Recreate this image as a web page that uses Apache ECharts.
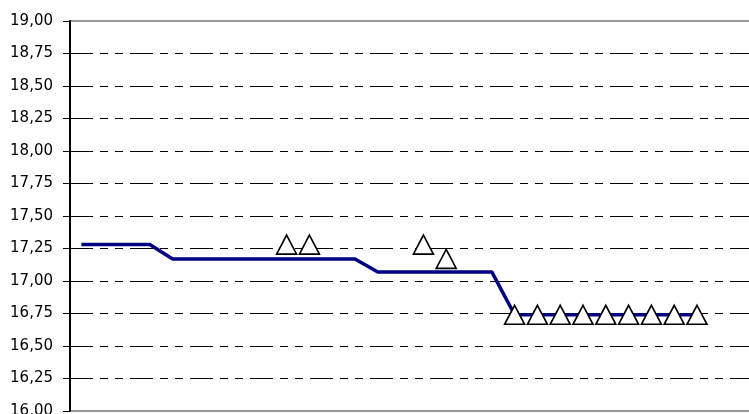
<!DOCTYPE html>
<html>
<head>
<meta charset="utf-8">
<script src="https://cdn.jsdelivr.net/npm/echarts@6/dist/echarts.min.js"></script>
<style>
  html, body { margin: 0; padding: 0; background: #fff; }
  #chart { width: 749px; height: 414px; }
</style>
</head>
<body>
<div id="chart"></div>
<script>
// 30 category slots, only the first 28 carry data
var categories = ['1','2','3','4','5','6','7','8','9','10','11','12','13','14','15',
                  '16','17','18','19','20','21','22','23','24','25','26','27','28','29','30'];

var levelValues = [17.28, 17.28, 17.28, 17.28, 17.17, 17.17, 17.17, 17.17, 17.17, 17.17,
                   17.17, 17.17, 17.17, 17.07, 17.07, 17.07, 17.07, 17.07, 17.07, 16.74,
                   16.74, 16.74, 16.74, 16.74, 16.74, 16.74, 16.74, 16.74];

var markerValues = [null, null, null, null, null, null, null, null, null, 17.28,
                    17.28, null, null, null, null, 17.28, 17.17, null, null, 16.74,
                    16.74, 16.74, 16.74, 16.74, 16.74, 16.74, 16.74, 16.74];

var yMin = 16, yMax = 19, yStep = 0.25;

var myChart = echarts.init(document.getElementById('chart'));
myChart.setOption({
    animation: false,
    backgroundColor: '#fff',
    grid: {
        left: 70,
        top: 21,
        bottom: 3,
        width: 684,
        outerBoundsMode: 'none',
        show: true,
        borderColor: '#999',
        borderWidth: 2
    },
    xAxis: {
        type: 'category',
        data: categories,
        boundaryGap: true,
        axisLine: { show: false },
        axisTick: { show: false },
        axisLabel: { show: false },
        splitLine: { show: false }
    },
    yAxis: {
        type: 'value',
        min: yMin,
        max: yMax,
        interval: yStep,
        axisLine: { show: true, lineStyle: { color: '#000', width: 2 } },
        axisTick: { show: true, length: 7, lineStyle: { color: '#000', width: 1 } },
        axisLabel: {
            margin: 17,
            color: '#000',
            fontSize: 15,
            fontFamily: 'DejaVu Sans',
            formatter: function (v) { return v.toFixed(2).replace('.', ','); }
        },
        splitLine: {
            show: true,
            showMinLine: false,
            showMaxLine: false,
            lineStyle: { color: '#000', width: 1, type: [23, 7, 8, 7, 8, 7] }
        }
    },
    series: [
        {
            type: 'line',
            data: levelValues,
            symbol: 'none',
            lineStyle: { color: '#000080', width: 3.5 },
            z: 3
        },
        {
            type: 'scatter',
            data: markerValues.map(function (v) { return v === null ? '-' : v; }),
            symbol: 'triangle',
            symbolSize: [20, 19],
            itemStyle: { color: '#fff', borderColor: '#000', borderWidth: 1.6, opacity: 1 },
            z: 4
        }
    ]
});
</script>
</body>
</html>
